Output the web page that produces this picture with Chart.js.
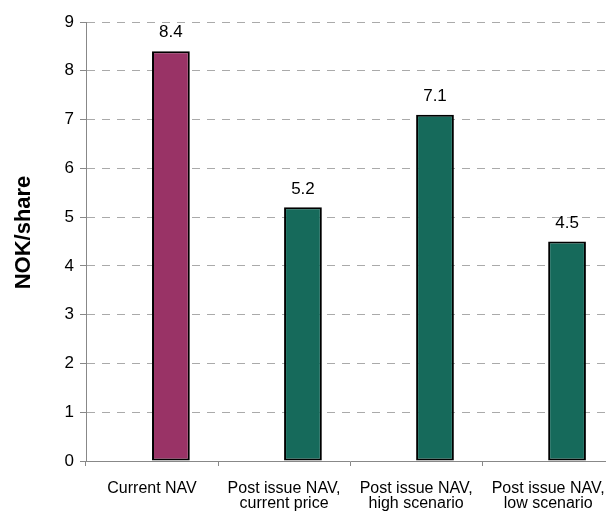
<!DOCTYPE html>
<html>
<head>
<meta charset="utf-8">
<title>NAV per share</title>
<script src="https://cdn.jsdelivr.net/npm/chart.js@4.4.1/dist/chart.umd.min.js"></script>
<style>
  html, body { margin: 0; padding: 0; background: #fff; overflow: hidden; }
  #wrap { width: 606px; height: 512px; overflow: hidden; }
  #wrap canvas { display: block; }
</style>
</head>
<body>
<div id="wrap"><canvas id="nav-chart" width="620" height="512"></canvas></div>
<script>
const categories = [
  'Current NAV',
  ['Post issue NAV,', 'current price'],
  ['Post issue NAV,', 'high scenario'],
  ['Post issue NAV,', 'low scenario']
];
const navValues = [8.4, 5.2, 7.1, 4.5];
const emptySlot = [null, null, null, null];
const barColors = ['#993366', '#166a5b', '#166a5b', '#166a5b'];
const yMin = 0;
const yMax = 9;
const yStep = 1;
const yTitle = 'NOK/share';

const FONT = 'Liberation Sans, Arial, sans-serif';

// numbers above each bar, plus the rotated axis title (sits a little above centre)
const chartText = {
  id: 'chartText',
  afterDatasetsDraw(chart) {
    const ctx = chart.ctx;
    const meta = chart.getDatasetMeta(1);
    ctx.save();
    ctx.font = '17px ' + FONT;
    ctx.fillStyle = '#000';
    ctx.textAlign = 'center';
    ctx.textBaseline = 'bottom';
    meta.data.forEach((bar, i) => {
      ctx.fillText(navValues[i].toFixed(1), bar.x, bar.y - 10);
    });

    const area = chart.chartArea;
    ctx.translate(24, (area.top + area.bottom) / 2 - 9);
    ctx.rotate(-Math.PI / 2);
    ctx.font = 'bold 22px ' + FONT;
    ctx.textBaseline = 'middle';
    ctx.fillText(yTitle, 0, 0);
    ctx.restore();
  }
};

new Chart(document.getElementById('nav-chart'), {
  type: 'bar',
  data: {
    labels: categories,
    datasets: [
      { data: emptySlot },
      {
        data: navValues,
        backgroundColor: barColors,
        borderColor: '#000',
        borderWidth: 2,
        borderSkipped: false
      }
    ]
  },
  options: {
    responsive: false,
    devicePixelRatio: 1,
    animation: false,
    categoryPercentage: 0.572,
    barPercentage: 1,
    layout: { padding: { top: 22, right: 3, left: 0, bottom: 0 } },
    plugins: {
      legend: { display: false },
      tooltip: { enabled: false }
    },
    scales: {
      x: {
        offset: true,
        grid: {
          offset: true,
          drawOnChartArea: false,
          color: '#888',
          tickLength: 5
        },
        border: { color: '#888', width: 1 },
        ticks: {
          color: '#000',
          font: { family: FONT, size: 16, lineHeight: 0.95 },
          padding: 15,
          maxRotation: 0,
          autoSkip: false
        },
        afterFit: scale => { scale.height = 51; }
      },
      y: {
        min: yMin,
        max: yMax,
        grid: {
          color: '#aaa',
          tickColor: '#888',
          tickLength: 6
        },
        border: { color: '#888', width: 1, dash: [8, 7] },
        ticks: {
          stepSize: yStep,
          color: '#000',
          font: { family: FONT, size: 17 },
          padding: 6
        },
        afterFit: scale => { scale.width = 86; }
      }
    }
  },
  plugins: [chartText]
});
</script>
</body>
</html>
